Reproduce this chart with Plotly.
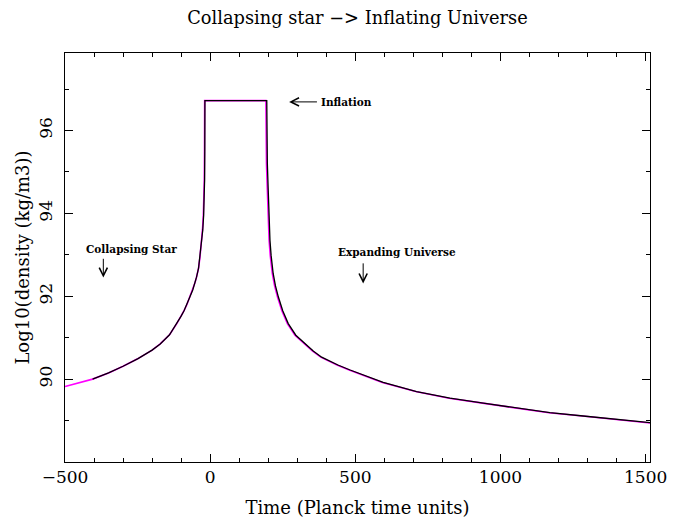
import plotly.graph_objects as go

# ---- data ----
# black curve (time in Planck units, log10 density)
t_black = [-405, -350, -300, -250, -200, -172, -140, -115, -100, -90, -80, -70, -60,
           -52, -47, -40, -35, -30, -25.5, -22.5, -20.5, -19.2, -18.5, -18,
           195, 195.8, 197, 200, 202, 206, 210, 217, 225, 235, 250, 269, 295, 327,
           355, 384, 440, 482, 530, 596, 711, 826, 941, 1056, 1170, 1285, 1400, 1515]
y_black = [90.00, 90.15, 90.31, 90.49, 90.70, 90.85, 91.07, 91.34, 91.52, 91.65, 91.80, 91.98, 92.15,
           92.33, 92.46, 92.68, 92.95, 93.25, 93.60, 93.95, 94.32, 94.80, 95.50, 96.72,
           96.72, 95.80, 95.20, 94.56, 94.00, 93.35, 92.98, 92.55, 92.25, 91.98, 91.65, 91.34, 91.06, 90.85,
           90.68, 90.53, 90.34, 90.22, 90.09, 89.92, 89.70, 89.54, 89.42, 89.30, 89.19, 89.11, 89.03, 88.95]

# magenta curve
t_mag = [-500, -450, -405, -350, -300, -250, -200, -172, -140, -115, -100, -90, -80, -70, -60,
         -52, -47, -40, -35, -30, -26.5, -23.5, -21.5, -20.2, -19.5, -19,
         192, 192.8, 194, 197, 199, 203, 207, 214, 222, 232, 247, 266, 292, 324,
         352, 381, 437, 479, 527, 593, 708, 823, 938, 1053, 1167, 1282, 1397, 1515]
y_mag = [89.82, 89.91, 90.00, 90.15, 90.31, 90.49, 90.70, 90.85, 91.07, 91.34, 91.52, 91.65, 91.80, 91.98, 92.15,
         92.33, 92.46, 92.68, 92.95, 93.25, 93.60, 93.95, 94.32, 94.80, 95.50, 96.72,
         96.72, 95.80, 95.20, 94.56, 94.00, 93.35, 92.98, 92.55, 92.25, 91.98, 91.65, 91.34, 91.06, 90.85,
         90.68, 90.53, 90.34, 90.22, 90.09, 89.92, 89.70, 89.54, 89.42, 89.30, 89.19, 89.11, 89.03, 88.94]

x_tickvals = [-500, 0, 500, 1000, 1500]
y_tickvals = [90, 92, 94, 96]

title_text = "Collapsing star −> Inflating Universe"
x_title = "Time (Planck time units)"
y_title = "Log10(density (kg/m3))"

# annotation labels and anchor points (data units)
label_texts = ["Inflation", "Collapsing Star", "Expanding Universe"]
label_x = [376, -272, 643]
label_y = [96.69, 93.14, 93.06]
# arrows: (tail x, tail y) -> (head x, head y)
arrow_tail_x = [373, -368, 527]
arrow_tail_y = [96.69, 92.94, 92.83]
arrow_head_x = [272, -368, 527]
arrow_head_y = [96.69, 92.45, 92.31]

SERIF = "DejaVu Serif"

fig = go.Figure()
fig.add_trace(go.Scatter(x=t_mag, y=y_mag, mode="lines",
                         line=dict(color="#ff00ff", width=1.6), hoverinfo="skip"))
fig.add_trace(go.Scatter(x=t_black, y=y_black, mode="lines",
                         line=dict(color="black", width=1.3), hoverinfo="skip"))

annotations = []
for i, txt in enumerate(label_texts):
    annotations.append(dict(
        x=label_x[i], y=label_y[i], xref="x", yref="y", text=txt, showarrow=False,
        xanchor="left" if i == 0 else "center", yanchor="middle",
        font=dict(family=SERIF, size=10.5, color="black", weight="bold")))
for i in range(len(arrow_tail_x)):
    annotations.append(dict(
        x=arrow_head_x[i], y=arrow_head_y[i], xref="x", yref="y",
        ax=arrow_tail_x[i], ay=arrow_tail_y[i], axref="x", ayref="y",
        text="", showarrow=True, arrowhead=5, arrowsize=1.6, arrowwidth=1,
        arrowcolor="black", standoff=0, startstandoff=0))

# page body has an 8px margin, so the figure is drawn 8px in from the window corner
fig.update_layout(
    width=681, height=515,
    margin=dict(l=57, r=39, t=45, b=61),
    paper_bgcolor="white", plot_bgcolor="white",
    showlegend=False,
    annotations=annotations,
    title=dict(text=title_text, x=0.5, xref="paper", y=1 - 10 / 515, yref="container",
               xanchor="center", yanchor="middle",
               font=dict(family=SERIF, size=17.8, color="black")),
)

axis_common = dict(
    showline=True, linecolor="black", linewidth=1, mirror="allticks",
    ticks="inside", ticklen=8, tickwidth=1, tickcolor="black",
    showgrid=False, zeroline=False, automargin=False,
    tickfont=dict(family=SERIF, size=17, color="black"),
)

fig.update_xaxes(range=[-500, 1515], tickmode="array", tickvals=x_tickvals,
                 minor=dict(dtick=100, ticks="inside", ticklen=4, tickcolor="black", showgrid=False),
                 title=dict(text=x_title, font=dict(family=SERIF, size=18, color="black"), standoff=14),
                 **axis_common)
fig.update_yaxes(range=[88, 97.87], tickmode="array", tickvals=y_tickvals, tickangle=-90,
                 ticklabelstandoff=5,
                 minor=dict(dtick=1, ticks="inside", ticklen=4, tickcolor="black", showgrid=False),
                 title=dict(text=y_title, font=dict(family=SERIF, size=18, color="black"), standoff=1),
                 **axis_common)

fig.write_html("out.html")
